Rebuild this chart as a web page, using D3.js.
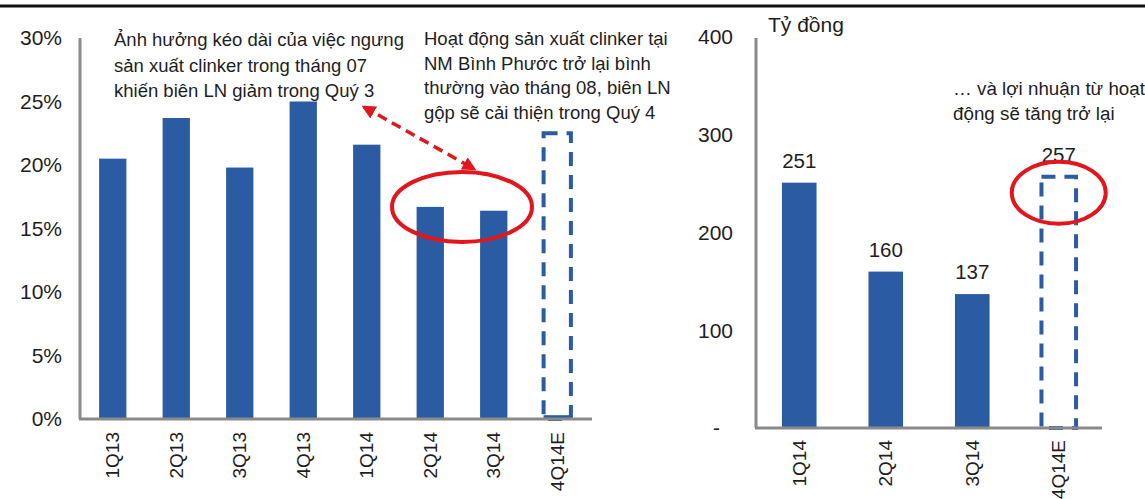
<!DOCTYPE html>
<html lang="vi">
<head>
<meta charset="UTF-8">
<title>Biên LN gộp và lợi nhuận</title>
<script src="https://d3js.org/d3.v7.min.js"></script>
<style>
  body { margin: 0; background: #fff; }
  svg { display: block; font-family: "Liberation Sans", Arial, sans-serif; }
  text { fill: #1e1e1e; }
</style>
</head>
<body>
<svg id="chart" width="1145" height="499"></svg>
<script>
// left chart: gross margin by quarter
const marginQuarters = ["1Q13", "2Q13", "3Q13", "4Q13", "1Q14", "2Q14", "3Q14", "4Q14E"];
const marginValues = [20.5, 23.7, 19.8, 25.0, 21.6, 16.7, 16.4, 0.3];
const marginEstimate = 22.5;
const marginTicks = [0, 5, 10, 15, 20, 25, 30];

// right chart: operating profit (ty dong)
const profitQuarters = ["1Q14", "2Q14", "3Q14", "4Q14E"];
const profitValues = [251, 160, 137, null];
const profitEstimate = 257;
const profitTicks = [0, 100, 200, 300, 400];

const note1 = ["Ảnh hưởng kéo dài của việc ngưng", "sản xuất clinker trong tháng 07", "khiến biên LN giảm trong Quý 3"];
const note2 = ["Hoạt động sản xuất clinker tại", "NM Bình Phước trở lại bình", "thường vào tháng 08, biên LN", "gộp sẽ cải thiện trong Quý 4"];
const note3 = ["… và lợi nhuận từ hoạt", "động sẽ tăng trở lại"];

const barColor = "#2b5ca3";
const axisColor = "#8a8a8a";
const red = "#e3161d";

const svg = d3.select("#chart");

svg.append("defs").call(defs => {
  defs.append("marker").attr("id", "head")
    .attr("viewBox", "0 0 10 10").attr("refX", 8).attr("refY", 5)
    .attr("markerWidth", 4).attr("markerHeight", 4)
    .attr("orient", "auto-start-reverse")
    .append("path").attr("d", "M0,0L10,5L0,10z").attr("fill", red);
});

// top rule
svg.append("line").attr("x1", 0).attr("x2", 1145).attr("y1", 6).attr("y2", 6)
  .attr("stroke", "#111").attr("stroke-width", 3);

// ---------- left chart ----------
const xL = d3.scaleBand().domain(marginQuarters).range([81, 589])
  .paddingInner(0.57).paddingOuter(0.285);
const yL = d3.scaleLinear().domain([0, 30]).range([419, 38]);

const left = svg.append("g");

left.selectAll(".ytick").data(marginTicks).join("text")
  .attr("x", 62).attr("y", d => yL(d)).attr("dy", "0.35em")
  .attr("text-anchor", "end").attr("font-size", 21)
  .text(d => d + "%");

left.selectAll(".bar").data(marginQuarters).join("rect")
  .attr("x", d => xL(d)).attr("width", xL.bandwidth())
  .attr("y", (d, i) => yL(marginValues[i]))
  .attr("height", (d, i) => yL(0) - yL(marginValues[i]))
  .attr("fill", barColor);

left.append("rect")
  .attr("x", xL("4Q14E")).attr("width", xL.bandwidth())
  .attr("y", yL(marginEstimate)).attr("height", yL(0) - yL(marginEstimate))
  .attr("fill", "none").attr("stroke", barColor).attr("stroke-width", 4)
  .attr("stroke-dasharray", "14,9");

left.append("line").attr("x1", 80).attr("x2", 80).attr("y1", yL(30)).attr("y2", yL(0))
  .attr("stroke", axisColor).attr("stroke-width", 3);
left.append("line").attr("x1", 79).attr("x2", 592).attr("y1", yL(0)).attr("y2", yL(0))
  .attr("stroke", axisColor).attr("stroke-width", 3);

left.selectAll(".xlab").data(marginQuarters).join("text")
  .attr("transform", d => `translate(${xL(d) + xL.bandwidth() / 2},432) rotate(-90)`)
  .attr("dy", "0.35em").attr("text-anchor", "end").attr("font-size", 19)
  .text(d => d);

left.append("text").attr("font-size", 18.5)
  .selectAll("tspan").data(note1).join("tspan")
  .attr("x", 114).attr("y", (d, i) => 46 + i * 25.5).text(d => d);

left.append("text").attr("font-size", 18.5)
  .selectAll("tspan").data(note2).join("tspan")
  .attr("x", 424).attr("y", (d, i) => 45 + i * 24.5).text(d => d);

// red ellipse around 2Q14-3Q14 and dashed arrow
const ex = (xL("2Q14") + xL("3Q14") + xL.bandwidth()) / 2;
const ey = yL(16.7);
left.append("ellipse").attr("cx", ex).attr("cy", ey).attr("rx", 70).attr("ry", 35)
  .attr("fill", "none").attr("stroke", red).attr("stroke-width", 4);
left.append("line")
  .attr("x1", 364).attr("y1", 107).attr("x2", ex + 12).attr("y2", ey - 38)
  .attr("stroke", red).attr("stroke-width", 3.5).attr("stroke-dasharray", "10,6")
  .attr("marker-start", "url(#head)").attr("marker-end", "url(#head)");

// ---------- right chart ----------
const xR = d3.scaleBand().domain(profitQuarters).range([756, 1102])
  .paddingInner(0.6).paddingOuter(0.3);
const yR = d3.scaleLinear().domain([0, 400]).range([428, 37]);

const right = svg.append("g");

right.selectAll(".ytick").data(profitTicks).join("text")
  .attr("x", d => d === 0 ? 720 : 733).attr("y", d => yR(d)).attr("dy", "0.35em")
  .attr("text-anchor", "end").attr("font-size", 21)
  .text(d => d === 0 ? "-" : d);

right.append("text").attr("x", 768).attr("y", 32).attr("font-size", 21).text("Tỷ đồng");

const rb = profitQuarters.map((q, i) => ({ q, v: profitValues[i] })).filter(d => d.v != null);
right.selectAll(".bar").data(rb).join("rect")
  .attr("x", d => xR(d.q)).attr("width", xR.bandwidth())
  .attr("y", d => yR(d.v)).attr("height", d => yR(0) - yR(d.v))
  .attr("fill", barColor);
right.selectAll(".val").data(rb).join("text")
  .attr("x", d => xR(d.q) + xR.bandwidth() / 2).attr("y", d => yR(d.v) - 15)
  .attr("text-anchor", "middle").attr("font-size", 20.5).text(d => d.v);

right.append("rect")
  .attr("x", xR("4Q14E")).attr("width", xR.bandwidth())
  .attr("y", yR(profitEstimate)).attr("height", yR(0) - yR(profitEstimate))
  .attr("fill", "none").attr("stroke", barColor).attr("stroke-width", 4)
  .attr("stroke-dasharray", "14,9");
right.append("text")
  .attr("x", xR("4Q14E") + xR.bandwidth() / 2).attr("y", yR(profitEstimate) - 15)
  .attr("text-anchor", "middle").attr("font-size", 20.5).text(profitEstimate);

right.append("line").attr("x1", 756).attr("x2", 756).attr("y1", 38).attr("y2", yR(0))
  .attr("stroke", axisColor).attr("stroke-width", 3);
right.append("line").attr("x1", 755).attr("x2", 1102).attr("y1", yR(0)).attr("y2", yR(0))
  .attr("stroke", axisColor).attr("stroke-width", 3);

right.selectAll(".xlab").data(profitQuarters).join("text")
  .attr("transform", d => `translate(${xR(d) + xR.bandwidth() / 2},440) rotate(-90)`)
  .attr("dy", "0.35em").attr("text-anchor", "end").attr("font-size", 19)
  .text(d => d);

right.append("text").attr("font-size", 18.8)
  .selectAll("tspan").data(note3).join("tspan")
  .attr("x", 953).attr("y", (d, i) => 95 + i * 25).text(d => d);

right.append("ellipse")
  .attr("cx", xR("4Q14E") + xR.bandwidth() / 2).attr("cy", yR(profitEstimate) + 16)
  .attr("rx", 47).attr("ry", 31)
  .attr("fill", "none").attr("stroke", red).attr("stroke-width", 4);
</script>
</body>
</html>
